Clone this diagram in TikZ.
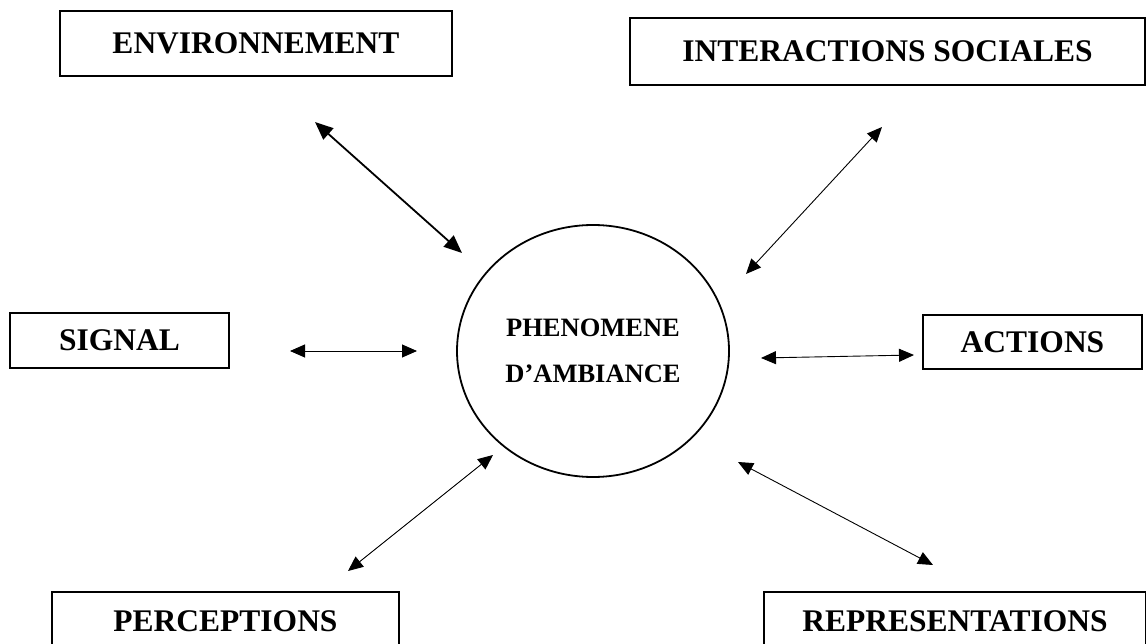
\documentclass[tikz,border=0pt]{standalone}
\usepackage{fontspec}
\setmainfont{Liberation Serif}
\usetikzlibrary{arrows.meta,shapes.geometric}
\begin{document}
\begin{tikzpicture}[x=1pt,y=-1pt,
  box/.style={draw,line width=1.6pt,inner sep=0pt,font=\bfseries\fontsize{31.5}{38}\selectfont},
  hub/.style={draw,ellipse,line width=1.8pt,inner sep=0pt,align=center,font=\bfseries\fontsize{26.5}{46}\selectfont},
  link/.style={{Triangle[length=15pt,width=13pt]}-{Triangle[length=15pt,width=13pt]},line width=0.9pt},
  boldlink/.style={{Triangle[length=18pt,width=15pt]}-{Triangle[length=18pt,width=15pt]},line width=1.8pt}
]
\useasboundingbox (0,0) rectangle (1146,644);
\fill[white] (0,0) rectangle (1146,644);

\node[box,minimum width=392,minimum height=65] (env) at (256,43.5) {ENVIRONNEMENT};
\node[box,minimum width=515,minimum height=67] (inter) at (887.5,51.5) {INTERACTIONS SOCIALES};
\node[box,minimum width=219,minimum height=55] (signal) at (119.5,340.5) {SIGNAL};
\node[box,minimum width=219,minimum height=54] (actions) at (1032.5,342) {ACTIONS};
\node[box,minimum width=347,minimum height=58] (perc) at (225.5,621) {PERCEPTIONS};
\node[box,minimum width=382,minimum height=58] (repr) at (955,621) {REPRESENTATIONS};

\node[hub,minimum width=272,minimum height=252] (hub) at (593,351) {PHENOMENE\\D’AMBIANCE};

\coordinate (envA) at (315,122);
\coordinate (envB) at (462,253);
\coordinate (intA) at (882,127);
\coordinate (intB) at (746,274);
\coordinate (sigA) at (290,351);
\coordinate (sigB) at (417,351);
\coordinate (actA) at (761,358);
\coordinate (actB) at (914,355);
\coordinate (perA) at (348,571);
\coordinate (perB) at (493,455);
\coordinate (repA) at (738,462);
\coordinate (repB) at (933,565);

\draw[boldlink] (envA) -- (envB);
\draw[link] (intA) -- (intB);
\draw[link] (sigA) -- (sigB);
\draw[link] (actA) -- (actB);
\draw[link] (perA) -- (perB);
\draw[link] (repA) -- (repB);
\end{tikzpicture}
\end{document}
